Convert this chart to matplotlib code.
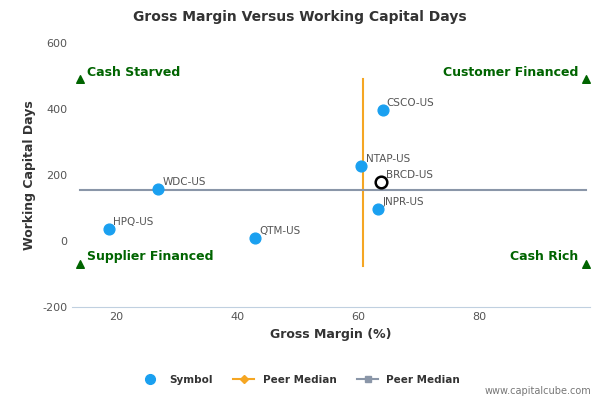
import matplotlib; matplotlib.use("Agg")
import matplotlib.pyplot as plt
from matplotlib.lines import Line2D

plt.rcParams["axes.unicode_minus"] = False

names = ["CSCO-US", "NTAP-US", "BRCD-US", "JNPR-US", "WDC-US", "HPQ-US", "QTM-US"]
gm    = [64.0, 60.5, 63.8, 63.3, 27.0, 18.8, 43.0]
wcd   = [397, 227, 179, 97, 157, 36, 9]
med_x = 60.8
med_y = 155
corners = [(14, 490, "Cash Starved", "left"), (97.5, 490, "Customer Financed", "right"),
           (14, -70, "Supplier Financed", "left"), (97.5, -70, "Cash Rich", "right")]

fig = plt.figure(figsize=(6, 4), dpi=100)
ax = fig.add_axes([0.12, 0.232, 0.863, 0.66])
ax.set_xlim(12.75, 98.2)
ax.set_ylim(-200, 600)
ax.set_xticks([20, 40, 60, 80]); ax.set_yticks([-200, 0, 200, 400, 600])
ax.tick_params(labelsize=8, colors="#555555", length=0)
for s in ["top", "right", "left"]: ax.spines[s].set_visible(False)
ax.spines["bottom"].set_color("#c0d0e0")

ax.plot([med_x, med_x], [-75, 490], color="#f5a623", lw=1.5)
ax.plot([14, 97.5], [med_y, med_y], color="#8a96a8", lw=1.5)
for n, x, y in zip(names, gm, wcd):
    if n == "BRCD-US":
        ax.scatter(x, y, s=70, facecolor="white", edgecolor="black", lw=1.8, zorder=4)
    else:
        ax.scatter(x, y, s=60, color="#1aa0f0", zorder=4)
    ax.text(x + 0.7, y + 12, n, fontsize=7.5, color="#555555")
for x, y, t, ha in corners:
    ax.scatter(x, y, marker="^", s=30, color="#006400", zorder=4)
    ax.text(x + (1.2 if ha == "left" else -1.2), y + 12, t, ha=ha, fontsize=9,
            fontweight="bold", color="#006400")

ax.set_xlabel("Gross Margin (%)", fontsize=9, fontweight="bold", color="#333333")
ax.set_ylabel("Working Capital Days", fontsize=9, fontweight="bold", color="#333333")
fig.suptitle("Gross Margin Versus Working Capital Days", x=0.5, y=0.975, fontsize=10,
             fontweight="bold", color="#333333")

h = [Line2D([], [], marker="o", ls="", color="#1aa0f0", ms=7),
     Line2D([], [], marker="D", color="#f5a623", ms=4, lw=1.5),
     Line2D([], [], marker="s", color="#8a96a8", ms=5, lw=1.5)]
fig.legend(h, ["Symbol", "Peer Median", "Peer Median"], loc="lower center",
           bbox_to_anchor=(0.5, 0.015), ncol=3, frameon=False,
           prop={"size": 7.5, "weight": "bold"}, labelcolor="#333333")
fig.text(0.985, 0.015, "www.capitalcube.com", ha="right", fontsize=7, color="#777777")
fig.savefig("out.png", dpi=100)
